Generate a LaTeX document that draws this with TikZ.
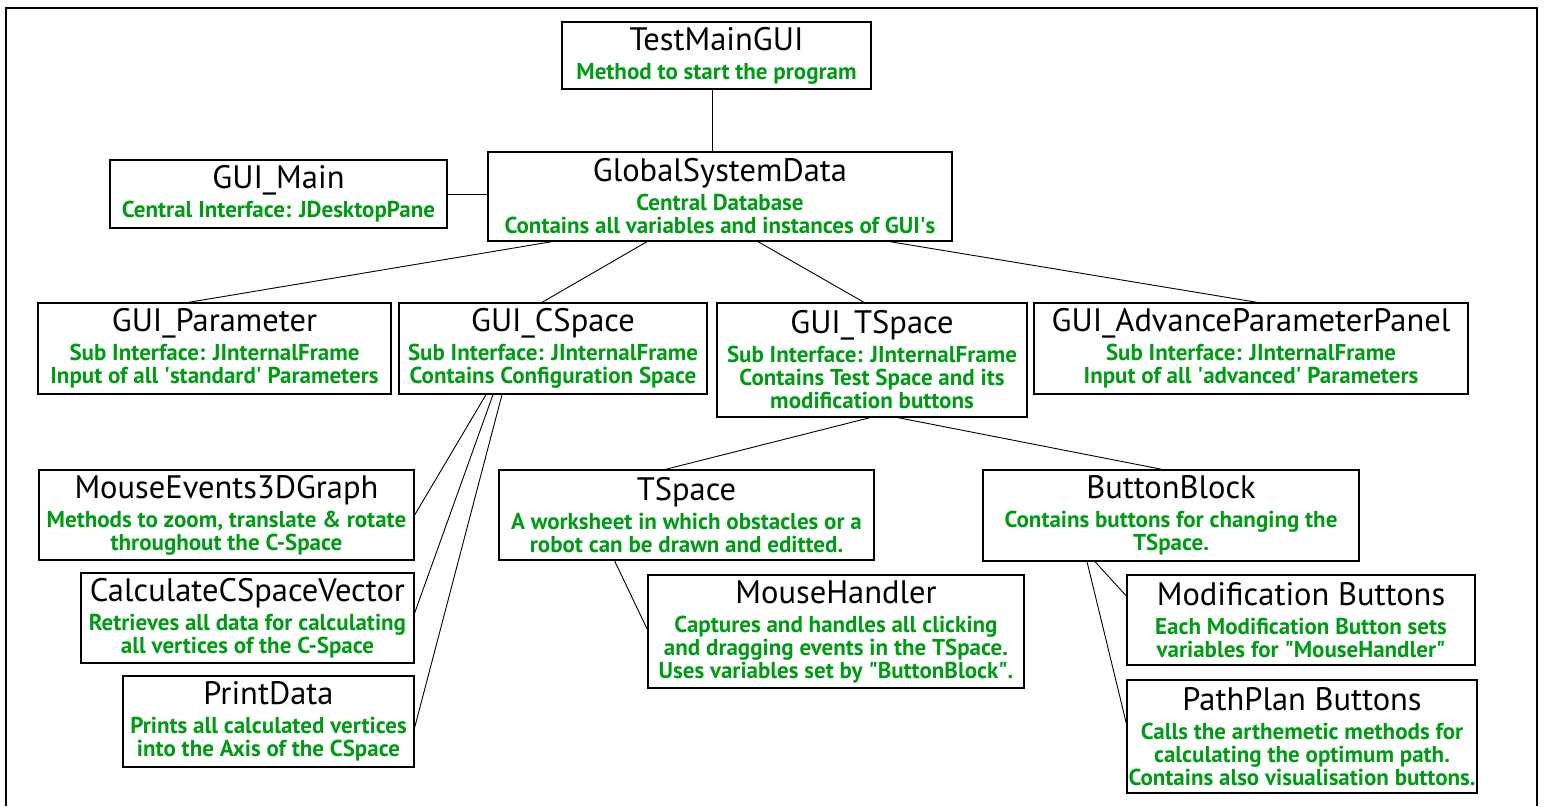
\documentclass[tikz,border=0pt]{standalone}
\usepackage{fontspec}
\usepackage{tikz}
\usetikzlibrary{calc}
\setmainfont{PT Sans}
\definecolor{descgreen}{RGB}{0,155,20}
\newcommand{\dl}[1]{{\fontsize{23}{23}\selectfont\bfseries\color{descgreen}#1}}
\tikzset{
  box/.style={draw, line width=1.3pt, rectangle, align=center, inner sep=1.5pt,
    font={\fontsize{32.5}{23}\selectfont\lineskiplimit=-20pt}},
  link/.style={line width=0.9pt}
}

\begin{document}
\begin{tikzpicture}[x=1pt,y=-1pt]
  \useasboundingbox (0,0) rectangle (1544,806);
  % Draw the outer frame
  \draw[line width=1.3pt] (6,806) -- (6,8) -- (1537,8) -- (1537,806);

  \node[box, minimum width=309pt, minimum height=67pt] (test) at (716.5,55.5)
    {TestMainGUI\\[6pt]\dl{Method to start the program}};
  \node[box, minimum width=464pt, minimum height=89pt] (gsd) at (720,196.5)
    {GlobalSystemData\\[6pt]\dl{Central Database}\\\dl{Contains all variables and instances of GUI\textquotesingle s}};
  \node[box, minimum width=337pt, minimum height=68pt] (main) at (278.5,194)
    {GUI\_Main\\[6pt]\dl{Central Interface: JDesktopPane}};

  \node[box, minimum width=353pt, minimum height=91pt] (param) at (214.5,348.5)
    {GUI\_Parameter\\[6pt]\dl{Sub Interface: JInternalFrame}\\\dl{Input of all \textquotesingle standard\textquotesingle{} Parameters}};
  \node[box, minimum width=308pt, minimum height=91pt] (cspace) at (553,348.5)
    {GUI\_CSpace\\[6pt]\dl{Sub Interface: JInternalFrame}\\\dl{Contains Configuration Space}};
  \node[box, minimum width=310pt, minimum height=114pt] (tspacegui) at (872,360)
    {GUI\_TSpace\\[6pt]\dl{Sub Interface: JInternalFrame}\\\dl{Contains Test Space and its}\\\dl{modification buttons}};
  \node[box, minimum width=434pt, minimum height=91pt] (adv) at (1251,348.5)
    {GUI\_AdvanceParameterPanel\\[6pt]\dl{Sub Interface: JInternalFrame}\\\dl{Input of all \textquotesingle advanced\textquotesingle{} Parameters}};

  \node[box, minimum width=375pt, minimum height=90pt] (mouse3d) at (226.5,515)
    {MouseEvents3DGraph\\[6pt]\dl{Methods to zoom, translate \& rotate}\\\dl{throughout the C-Space}};
  \node[box, minimum width=333pt, minimum height=90pt] (calcvec) at (247.5,618)
    {CalculateCSpaceVector\\[6pt]\dl{Retrieves all data for calculating}\\\dl{all vertices of the C-Space}};
  \node[box, minimum width=291pt, minimum height=91pt] (print) at (268.5,721.5)
    {PrintData\\[6pt]\dl{Prints all calculated vertices}\\\dl{into the Axis of the CSpace}};

  \node[box, minimum width=375pt, minimum height=90pt] (tspace) at (686.5,515)
    {TSpace\\[6pt]\dl{A worksheet in which obstacles or a}\\\dl{robot can be drawn and editted.}};
  \node[box, minimum width=376pt, minimum height=91pt] (bblock) at (1171,515.5)
    {ButtonBlock\\[6pt]\dl{Contains buttons for changing the}\\\dl{TSpace.}};
  \node[box, minimum width=376pt, minimum height=113pt] (mhandler) at (836,631.5)
    {MouseHandler\\[6pt]\dl{Captures and handles all clicking}\\\dl{and dragging events in the TSpace.}\\\dl{Uses variables set by \textquotedbl ButtonBlock\textquotedbl .}};
  \node[box, minimum width=348pt, minimum height=90pt] (modbtn) at (1301,620)
    {Modification Buttons\\[6pt]\dl{Each Modification Button sets}\\\dl{variables for \textquotedbl MouseHandler\textquotedbl}};
  \node[box, minimum width=350pt, minimum height=113pt] (ppbtn) at (1302,736.5)
    {PathPlan Buttons\\[6pt]\dl{Calls the arthemetic methods for}\\\dl{calculating the optimum path.}\\\dl{Contains also visualisation buttons.}};

  % Connections
  \draw[link] ($(test.south)+(-4,0)$) coordinate (t0) -- (t0 |- gsd.north);
  \draw[link] (main.east) -- (main.east -| gsd.west);
  \draw[link] ($(gsd.south)+(-168,0)$) -- ($(param.north)+(-26,0)$);
  \draw[link] ($(gsd.south)+(-73,0)$) -- ($(cspace.north)+(-11,0)$);
  \draw[link] ($(gsd.south)+(38,0)$) -- ($(tspacegui.north)+(-8,0)$);
  \draw[link] ($(gsd.south)+(170,0)$) -- ($(adv.north)+(6,0)$);
  \draw[link] ($(cspace.south)+(-67,0)$) -- (mouse3d.east);
  \draw[link] ($(cspace.south)+(-60,0)$) -- ($(calcvec.east)+(0,-5)$);
  \draw[link] ($(cspace.south)+(-51,0)$) -- ($(print.east)+(0,6)$);
  \draw[link] ($(tspacegui.south)+(-2,0)$) -- ($(tspace.north)+(-21,0)$);
  \draw[link] ($(tspacegui.south)+(26,0)$) -- ($(bblock.north)+(-9,0)$);
  \draw[link] ($(tspace.south)+(-72,0)$) -- ($(mhandler.west)+(0,-2)$);
  \draw[link] ($(bblock.south)+(-76,0)$) -- ($(modbtn.west)+(0,-24)$);
  \draw[link] ($(bblock.south)+(-84,0)$) -- ($(ppbtn.west)+(0,-13)$);
\end{tikzpicture}
\end{document}
